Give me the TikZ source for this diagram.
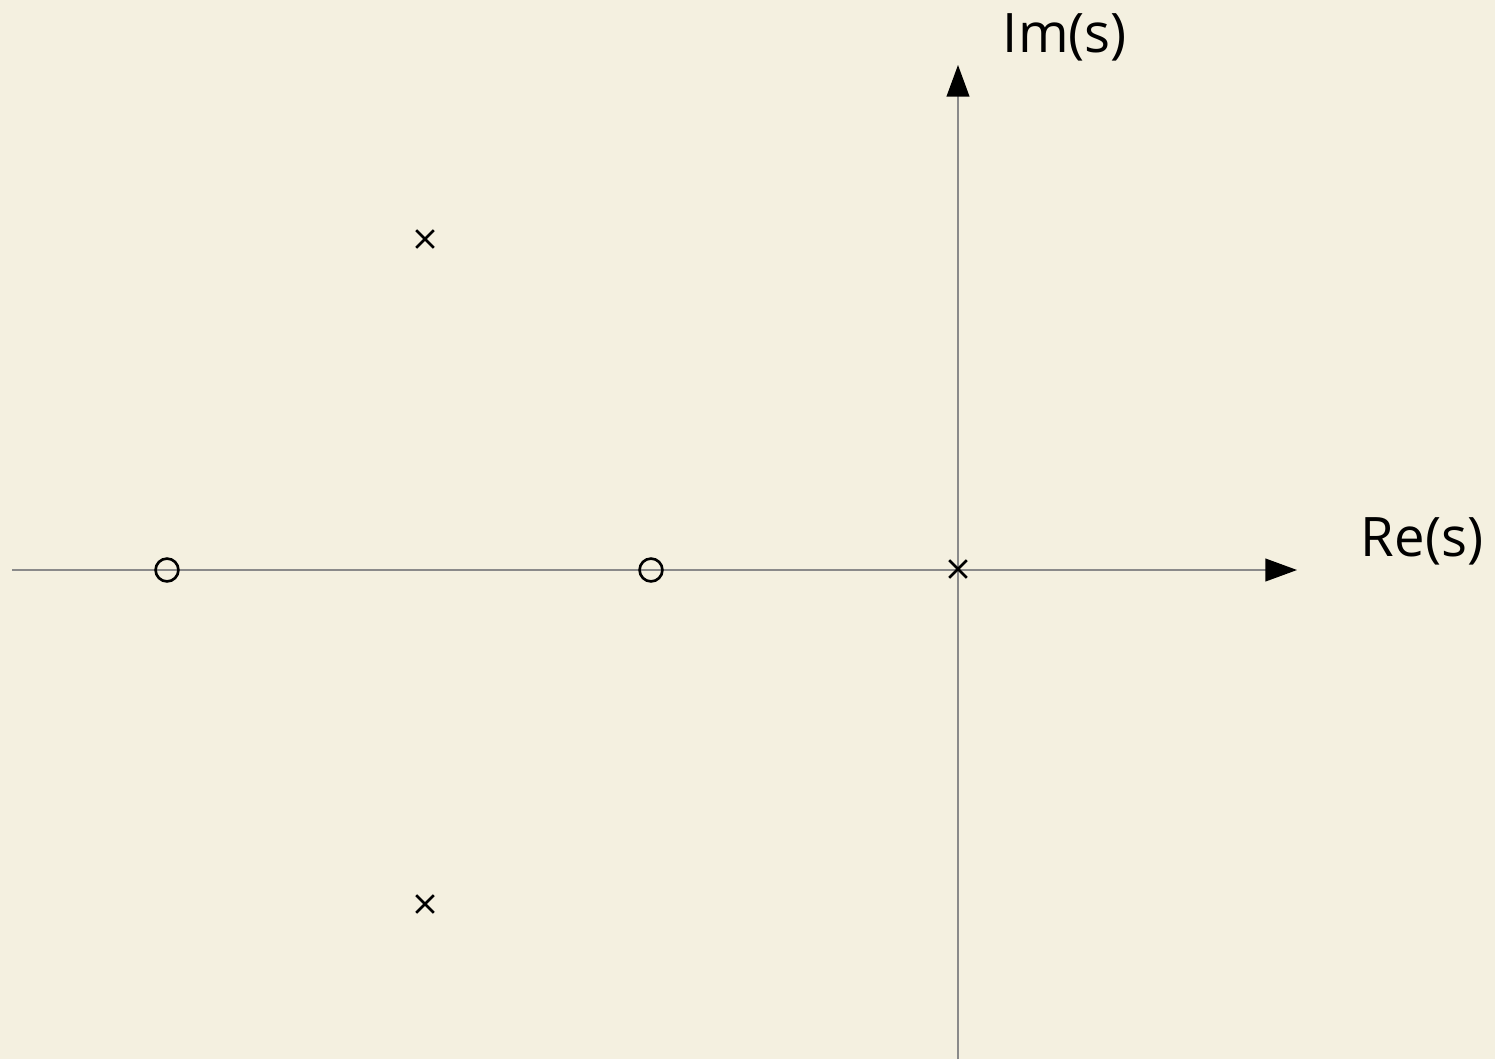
\documentclass[tikz,border=0pt]{standalone}
\usepackage{fontspec}
\setmainfont{Open Sans}
\usepackage{xcolor}
\usepackage{tikz}
\usetikzlibrary{arrows.meta,shapes.misc}
\definecolor{paper}{HTML}{F4F0E0}
\definecolor{axisgray}{HTML}{8A8A8A}

\begin{document}
\begin{tikzpicture}[
  x=0.02cm, y=-0.02cm,
  axis/.style={axisgray, line width=0.75pt,
               -{Triangle[length=18pt, width=13pt, color=black, fill=black]}},
  pole/.style={cross out, draw=black, line width=1.5pt,
               minimum size=8.5pt, inner sep=0pt},
  zero/.style={circle, draw=black, line width=1.5pt,
               minimum size=13pt, inner sep=0pt},
  lbl/.style={font=\fontsize{31}{36}\selectfont, inner sep=0pt}
]
  \fill[paper] (0,0) rectangle (1495,1059);
  \useasboundingbox (0,0) rectangle (1495,1059);
  % axes
  \coordinate (o)    at (958,570);
  \coordinate (west) at (12,570);
  \coordinate (east) at (1297,570);
  \coordinate (south) at (958,1059);
  \coordinate (north) at (958,65);
  \draw[axis] (west) -- (east);
  \draw[axis] (south) -- (north);
  \node[lbl] (re) at (1422,541) {Re(s)};
  \node[lbl] (im) at (1065,37)  {Im(s)};
  % poles and zeros
  \node[pole] (p1) at (425,239) {};
  \node[pole] (p2) at (425,904) {};
  \node[pole] (p3) at (958,569) {};
  \node[zero] (z1) at (167,570) {};
  \node[zero] (z2) at (651,570) {};
\end{tikzpicture}
\end{document}
